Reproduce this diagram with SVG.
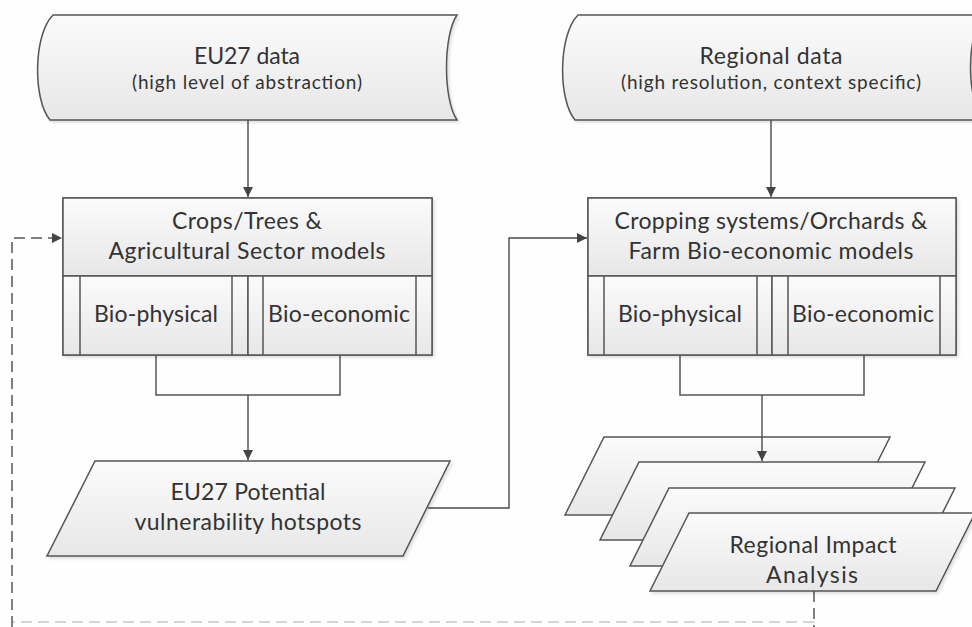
<svg xmlns="http://www.w3.org/2000/svg" width="972" height="627" viewBox="0 0 972 627">
  <defs>
    <linearGradient id="shade" x1="0" y1="0" x2="0" y2="1">
      <stop offset="0" stop-color="#fbfbfb"/>
      <stop offset="1" stop-color="#e7e7e7"/>
    </linearGradient>
    <marker id="arrow" viewBox="0 0 10 10" refX="10" refY="5" markerWidth="10" markerHeight="10" markerUnits="userSpaceOnUse" orient="auto">
      <path d="M0,0 L10,5 L0,10 Z" fill="#444"/>
    </marker>
    <filter id="soft" x="-5%" y="-5%" width="115%" height="120%">
      <feDropShadow dx="2" dy="2" stdDeviation="1.5" flood-color="#000" flood-opacity="0.12"/>
    </filter>
  </defs>
  <style>
    .shape { fill: url(#shade); stroke: #555; stroke-width: 1.5; }
    .line { fill: none; stroke: #555; stroke-width: 1.5; }
    .wire { fill: none; stroke: #4a4a4a; stroke-width: 1.4; }
    .dash { fill: none; stroke: #555; stroke-width: 1.5; stroke-dasharray: 11 6; }
    .faint { fill: none; stroke: #c9c9c9; stroke-width: 1.5; stroke-dasharray: 11 6; }
    text { font-family: Lato, "Open Sans", "Liberation Sans", sans-serif; fill: #333; text-anchor: middle; }
    .big { font-size: 23px; }
    .small { font-size: 19px; }
  </style>

  <rect x="0" y="0" width="972" height="627" fill="#fefefe"/>

  <!-- connectors -->
  <g id="connectors">
    <path class="wire" d="M248,120 V197" marker-end="url(#arrow)"/>
    <path class="wire" d="M771,120 V197" marker-end="url(#arrow)"/>
    <path class="line" d="M156,355 V395 H340 V355"/>
    <path class="wire" d="M248,395 V460" marker-end="url(#arrow)"/>
    <path class="line" d="M680,355 V395 H864 V355"/>
    <path class="wire" d="M428,508 H509 V238 H587" marker-end="url(#arrow)"/>
    <path class="faint" d="M814,622 H12"/>
    <path class="dash" d="M814,591 V627"/>
    <path class="dash" d="M12,627 V238 H62" marker-end="url(#arrow)"/>
  </g>

  <!-- EU27 data store -->
  <g id="eu27-data">
    <path class="shape" filter="url(#soft)" d="M53,15 H457 C443,35 443,100 457,120 H50 C33,100 33,35 53,15 Z"/>
    <text class="big" x="247" y="64" textLength="106">EU27 data</text>
    <text class="small" x="247" y="89" textLength="230">(high level of abstraction)</text>
  </g>

  <!-- Regional data store -->
  <g id="regional-data">
    <path class="shape" filter="url(#soft)" d="M578,15 H984 C966,35 966,100 984,120 H575 C558,100 558,35 578,15 Z"/>
    <text class="big" x="771" y="64" textLength="143">Regional data</text>
    <text class="small" x="771" y="89" textLength="300">(high resolution, context specific)</text>
  </g>

  <!-- EU27 sector models -->
  <g id="sector-models">
    <rect class="shape" filter="url(#soft)" x="63" y="198" width="369" height="157"/>
    <rect class="shape" x="63" y="198" width="369" height="78"/>
    <rect class="shape" x="63" y="276" width="185" height="79"/>
    <path class="line" d="M80,276 V355 M232,276 V355"/>
    <rect class="shape" x="248" y="276" width="184" height="79"/>
    <path class="line" d="M263,276 V355 M416,276 V355"/>
    <text class="big" x="247" y="229" textLength="150">Crops/Trees &amp;</text>
    <text class="big" x="247" y="259" textLength="277">Agricultural Sector models</text>
    <text class="big" x="156" y="322" textLength="124">Bio-physical</text>
    <text class="big" x="339" y="322" textLength="142">Bio-economic</text>
  </g>

  <!-- Regional farm models -->
  <g id="farm-models">
    <rect class="shape" filter="url(#soft)" x="588" y="198" width="368" height="157"/>
    <rect class="shape" x="588" y="198" width="368" height="78"/>
    <rect class="shape" x="588" y="276" width="184" height="79"/>
    <path class="line" d="M604,276 V355 M757,276 V355"/>
    <rect class="shape" x="772" y="276" width="184" height="79"/>
    <path class="line" d="M788,276 V355 M940,276 V355"/>
    <text class="big" x="771" y="229" textLength="313">Cropping systems/Orchards &amp;</text>
    <text class="big" x="771" y="259" textLength="285">Farm Bio-economic models</text>
    <text class="big" x="680" y="322" textLength="124">Bio-physical</text>
    <text class="big" x="863" y="322" textLength="142">Bio-economic</text>
  </g>

  <!-- EU27 hotspots output -->
  <g id="hotspots">
    <polygon class="shape" filter="url(#soft)" points="95,461 450,461 403,556 47,556"/>
    <text class="big" x="248" y="500" textLength="155">EU27 Potential</text>
    <text class="big" x="248" y="530" textLength="227">vulnerability hotspots</text>
  </g>

  <!-- stacked regional impact outputs -->
  <g id="regional-impact">
    <polygon class="shape" points="604,437 890,437 851,515 565,515"/>
    <polygon class="shape" points="639,462 925,462 886,540 600,540"/>
    <polygon class="shape" points="669,488 955,488 916,566 630,566"/>
    <polygon class="shape" filter="url(#soft)" points="689,513 975,513 936,591 650,591"/>
    <text class="big" x="813" y="553" textLength="167">Regional Impact</text>
    <text class="big" x="812" y="583" textLength="92">Analysis</text>
  </g>
  <path class="wire" d="M762,395 V461" marker-end="url(#arrow)"/>
</svg>
